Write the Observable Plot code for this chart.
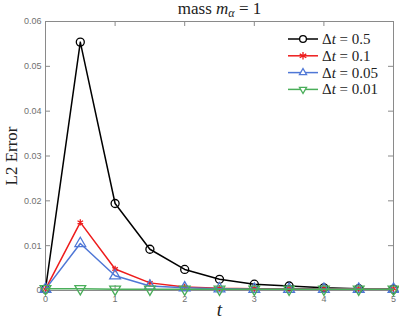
<!DOCTYPE html>
<html><head><meta charset="utf-8">
<script src="https://cdn.jsdelivr.net/npm/d3@7"></script>
<script src="https://cdn.jsdelivr.net/npm/@observablehq/plot@0.6"></script>
<style>body{margin:0;background:#fff}</style>
</head><body><div id="chart"></div>
<script>
const times = [0, 0.5, 1, 1.5, 2, 2.5, 3, 3.5, 4, 4.5, 5];
const err05 = [0.0003, 0.0554, 0.0194, 0.0092, 0.0047, 0.0025, 0.0014, 0.0010, 0.0006, 0.0004, 0.0003];
const err01 = [0.0003, 0.0152, 0.0048, 0.0017, 0.0008, 0.0005, 0.0004, 0.0004, 0.0004, 0.0004, 0.0004];
const err005 = [0.0003, 0.0105, 0.0033, 0.0010, 0.0006, 0.0004, 0.0003, 0.0003, 0.0003, 0.0003, 0.0003];
const err001 = [0.0004, 0.0004, 0.0003, 0.0003, 0.0003, 0.0003, 0.0003, 0.0003, 0.0003, 0.0003, 0.0003];
const seriesNames = ["0.5", "0.1", "0.05", "0.01"];
const seriesColors = ["#000000", "#ee1c1c", "#4f77d6", "#4aae5a"];
const seriesSymbols = ["circle", "asterisk", "triangle", "triangle"];
const seriesRotate = [0, 0, 0, 180];
const xTicks = [0, 1, 2, 3, 4, 5];
const yTicks = [0, 0.01, 0.02, 0.03, 0.04, 0.05, 0.06];

const allErr = [err05, err01, err005, err001];
const rows = [];
allErr.forEach((arr, s) => arr.forEach((v, i) => rows.push({t: times[i], e: v, s})));

const W = 399, H = 326, mL = 45, mR = 6, mT = 21, mB = 36;
const iw = W - mL - mR, ih = H - mT - mB;
const gray = "#8a8a8a";

const marks = [
  Plot.frame({stroke: gray, strokeWidth: 1}),
  Plot.tickX(xTicks, {x: d => d, insetTop: ih - 5, stroke: gray}),
  Plot.tickX(xTicks.slice(1, -1), {x: d => d, insetBottom: ih - 5, stroke: gray}),
  Plot.tickY(yTicks, {y: d => d, insetRight: iw - 5, stroke: gray}),
  Plot.tickY(yTicks.slice(1, -1), {y: d => d, insetLeft: iw - 5, stroke: gray}),
  Plot.axisX({ticks: xTicks, tickSize: 0, tickPadding: 5, fontSize: 9, fill: "#707070", label: null, tickFormat: d => String(d)}),
  Plot.axisY({ticks: yTicks, tickSize: 0, tickPadding: 4, fontSize: 9, fill: "#707070", label: null, tickFormat: d => d === 0 ? "0" : d.toFixed(2)}),
];
allErr.forEach((arr, s) => {
  const data = rows.filter(r => r.s === s);
  marks.push(Plot.line(data, {x: "t", y: "e", stroke: seriesColors[s], strokeWidth: 1.5}));
  marks.push(Plot.dot(data, {x: "t", y: "e", stroke: seriesColors[s], symbol: seriesSymbols[s], rotate: seriesRotate[s], r: s === 1 ? 3 : 4, strokeWidth: 1.3, fill: s === 1 ? seriesColors[s] : "none"}));
});
marks.push(Plot.text(["t"], {frameAnchor: "bottom", dy: 25, lineAnchor: "bottom", fontSize: 19, fontStyle: "italic", fontFamily: "Liberation Serif", fill: "#222"}));
marks.push(Plot.text(["L2 Error"], {frameAnchor: "left", textAnchor: "middle", dx: -34, rotate: -90, fontSize: 17, fontFamily: "Liberation Serif", fill: "#222"}));
marks.push(Plot.text(["mass mα = 1"], {frameAnchor: "top", lineAnchor: "bottom", dy: -8, fontSize: 17, fontFamily: "Liberation Serif", fill: "#222", className: "ttl"}));

const chart = Plot.plot({
  width: W, height: H, marginLeft: mL, marginRight: mR, marginTop: mT, marginBottom: mB,
  x: {domain: [0, 5]},
  y: {domain: [0, 0.06]},
  style: {fontFamily: "Liberation Sans", background: "#fff"},
  marks
});
document.getElementById("chart").appendChild(chart);

const svg = d3.select(chart);
// title with italic m and subscript alpha
const tt = svg.select(".ttl text");
tt.text("");
tt.append("tspan").text("mass ");
tt.append("tspan").attr("font-style", "italic").text("m");
tt.append("tspan").attr("font-style", "italic").attr("font-size", 12).attr("dy", 3).text("α");
tt.append("tspan").attr("dy", -3).text(" = 1");

// legend
const lg = svg.append("g").attr("class", "legend").attr("text-anchor", "start");
seriesNames.forEach((name, s) => {
  const y = 39 + s * 16.8;
  const x0 = 288, x1 = 318;
  lg.append("line").attr("x1", x0).attr("x2", x1).attr("y1", y).attr("y2", y).attr("stroke", seriesColors[s]).attr("stroke-width", 1.5);
  const sym = d3.symbol(s === 0 ? d3.symbolCircle : s === 1 ? d3.symbolAsterisk : d3.symbolTriangle2, s === 1 ? 40 : 36)();
  lg.append("path").attr("d", sym).attr("transform", `translate(${(x0 + x1) / 2},${y}) rotate(${seriesRotate[s]})`)
    .attr("stroke", seriesColors[s]).attr("stroke-width", 1.3).attr("fill", s === 1 ? seriesColors[s] : "#fff");
  const t = lg.append("text").attr("x", 322).attr("y", y + 5).attr("font-family", "Liberation Serif").attr("font-size", 15).attr("fill", "#222");
  t.append("tspan").text("Δ");
  t.append("tspan").attr("font-style", "italic").text("t");
  t.append("tspan").text(" = " + name);
});
</script>
</body></html>
